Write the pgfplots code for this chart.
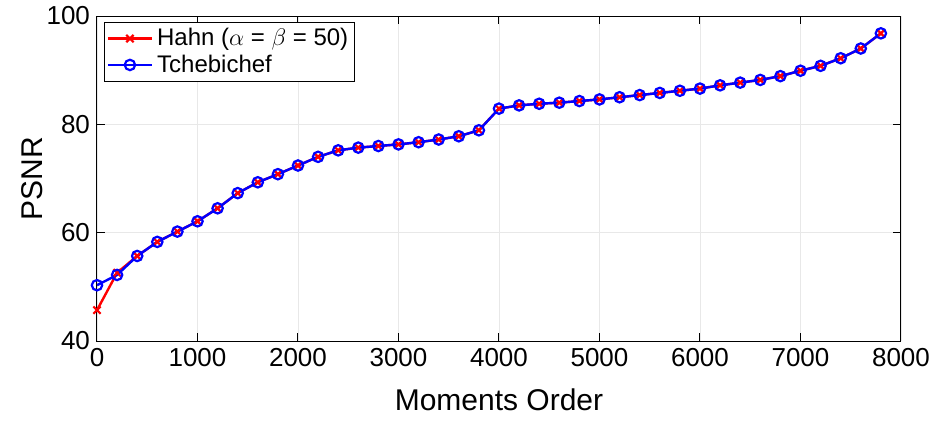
\documentclass[border=0pt]{standalone}
\usepackage{pgfplots}
\pgfplotsset{compat=1.18}
\usepackage{fontspec}
\setmainfont{Liberation Sans}
\begin{document}
\begin{tikzpicture}
\useasboundingbox (-48.5pt,-41.5pt) rectangle (420.5pt,170.5pt);
\begin{axis}[
  scale only axis,
  width=402pt, height=162.5pt,
  xmin=0, xmax=8000, ymin=40, ymax=100,
  xtick={0,1000,...,8000}, ytick={40,60,80,100},
  scaled x ticks=false,
  /pgf/number format/assume math mode=true,
  /pgf/number format/set thousands separator={},
  tick align=inside, tick pos=both,
  major tick length=4pt,
  tick style={black, line width=0.5pt},
  axis line style={black, line width=0.5pt},
  grid=major, major grid style={gray!18, line width=0.4pt},
  tick label style={font=\fontsize{13}{15}\selectfont},
  xlabel={Moments Order}, ylabel={PSNR},
  label style={font=\fontsize{15}{18}\selectfont},
  x label style={at={(axis description cs:0.5,-0.1815)},anchor=center},
  y label style={at={(axis description cs:-0.081,0.5)},anchor=center},
  legend style={at={(axis description cs:0.009,0.982)}, anchor=north west,
    font=\fontsize{12}{14}\selectfont, draw=black, line width=0.5pt,
    inner sep=1pt, row sep=-1pt},
  legend cell align=left,
  legend image code/.code={\draw[#1] (0pt,0pt) -- (22pt,0pt); \draw[#1,mark repeat=1] plot coordinates {(11pt,0pt)};},
]
\addplot[red, line width=1.2pt, mark=x, mark size=2.6pt, mark options={line width=1.1pt}] coordinates {
(0,45.7) (200,52.6) (400,55.7) (600,58.3) (800,60.2) (1000,62.1) (1200,64.5) (1400,67.3)
(1600,69.3) (1800,70.8) (2000,72.4) (2200,74.0) (2400,75.2) (2600,75.7) (2800,76.0)
(3000,76.3) (3200,76.7) (3400,77.2) (3600,77.8) (3800,78.9) (4000,82.9) (4200,83.5)
(4400,83.8) (4600,84.0) (4800,84.3) (5000,84.6) (5200,85.0) (5400,85.4) (5600,85.8)
(5800,86.2) (6000,86.6) (6200,87.2) (6400,87.7) (6600,88.2) (6800,88.9) (7000,89.9)
(7200,90.8) (7400,92.2) (7600,94.0) (7800,96.8)};
\addlegendentry{Hahn ($\alpha$ = $\beta$ = 50)}
\addplot[blue, line width=1.2pt, mark=o, mark size=2.6pt, mark options={line width=1.1pt}] coordinates {
(0,50.3) (200,52.2) (400,55.7) (600,58.3) (800,60.2) (1000,62.1) (1200,64.5) (1400,67.3)
(1600,69.3) (1800,70.8) (2000,72.4) (2200,74.0) (2400,75.2) (2600,75.7) (2800,76.0)
(3000,76.3) (3200,76.7) (3400,77.2) (3600,77.8) (3800,78.9) (4000,82.9) (4200,83.5)
(4400,83.8) (4600,84.0) (4800,84.3) (5000,84.6) (5200,85.0) (5400,85.4) (5600,85.8)
(5800,86.2) (6000,86.6) (6200,87.2) (6400,87.7) (6600,88.2) (6800,88.9) (7000,89.9)
(7200,90.8) (7400,92.2) (7600,94.0) (7800,96.8)};
\addlegendentry{Tchebichef}
\end{axis}
\end{tikzpicture}
\end{document}
